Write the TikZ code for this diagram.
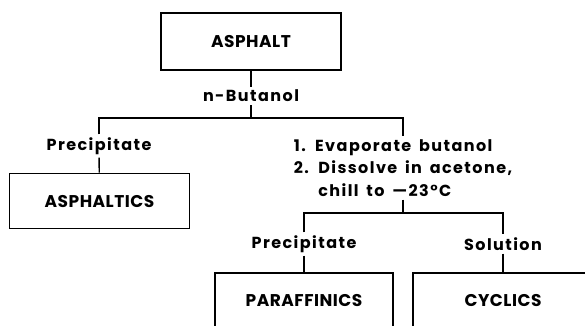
\documentclass[tikz,border=0pt]{standalone}
\usepackage{fontspec}
\setmainfont{Poppins}
\newfontfamily\boxfont{Poppins}[LetterSpace=3]
\newfontfamily\lblfont{Poppins}[LetterSpace=9, WordSpace=1.6]
\usetikzlibrary{positioning}

\begin{document}
\begin{tikzpicture}[x=1pt, y=-1pt,
  box/.style={draw, line width=1.6pt, minimum width=180pt, minimum height=55pt,
    font=\boxfont\bfseries\fontsize{17}{19}\selectfont},
  lbl/.style={font=\lblfont\bfseries\fontsize{16}{22.5}\selectfont, inner sep=3pt},
  link/.style={line width=1.4pt}]

\useasboundingbox (0,0) rectangle (585,325);

% boxes
\node[box, minimum height=57pt] (asphalt) at (251,41.5) {ASPHALT};
\node[box] (asphaltics) at (99.5,201) {ASPHALTICS};
\node[box, minimum width=178pt] (paraffinics) at (304,300.5) {PARAFFINICS};
\node[box] (cyclics) at (503,300.5) {CYCLICS};

% labels
\node[lbl] (butanol) at (251,96) {n-Butanol};
\node[lbl] (precA) at (99,146) {Precipitate};
\node[lbl, align=left] (steps) at (403,168) {1. Evaporate butanol\\
  2. Dissolve in acetone,\\
  \phantom{2. }chill to —23°C};
\node[lbl] (precB) at (304,244) {Precipitate};
\node[lbl] (solution) at (503,244) {Solution};

% junctions
\coordinate (j1) at (251,118);
\coordinate (j2) at (403,213);

% connectors
\draw[link] (asphalt) -- (butanol);
\draw[link] (butanol) -- (j1);
\draw[link] (precA) |- (j1) -| (steps);
\draw[link] (precA) -- (asphaltics);
\draw[link] (steps) -- (j2);
\draw[link] (precB) |- (j2) -| (solution);
\draw[link] (precB) -- (paraffinics);
\draw[link] (solution) -- (cyclics);

\end{tikzpicture}
\end{document}
